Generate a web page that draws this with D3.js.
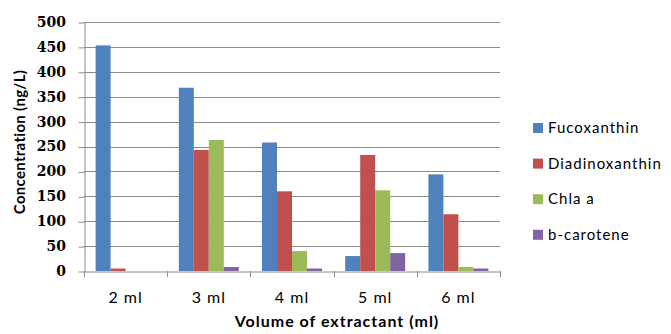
<!DOCTYPE html>
<html>
<head>
<meta charset="utf-8">
<script src="https://cdn.jsdelivr.net/npm/d3@7"></script>
<style>
  body { margin: 0; background: #fff; }
  svg { display: block; }
  text { font-family: Lato, "Open Sans", sans-serif; fill: #000; }
</style>
</head>
<body>
<div id="chart"></div>
<script>
// Pigment concentrations by volume of extractant
const categories = ["2 ml", "3 ml", "4 ml", "5 ml", "6 ml"];
const seriesNames = ["Fucoxanthin", "Diadinoxanthin", "Chla a", "b-carotene"];
const fucoxanthin = [453, 368, 258, 30, 194];
const diadinoxanthin = [5, 243, 160, 233, 114];
const chlaA = [0, 263, 40, 162, 8];
const bCarotene = [0, 8, 5, 36, 5];
const yTicks = [0, 50, 100, 150, 200, 250, 300, 350, 400, 450, 500];
const colors = ["#4F81BD", "#C0504D", "#9BBB59", "#8064A2"];

const seriesValues = [fucoxanthin, diadinoxanthin, chlaA, bCarotene];

const W = 671, H = 334;
const plot = { left: 84, right: 500, top: 22, bottom: 271 };

const svg = d3.select("#chart").append("svg").attr("width", W).attr("height", H);

const x = d3.scaleBand().domain(categories).range([plot.left, plot.right]).paddingInner(0).paddingOuter(0);
const inner = d3.scaleBand().domain(seriesNames).range([0, x.bandwidth()]).paddingOuter(0.775).paddingInner(0);
const y = d3.scaleLinear().domain([0, 500]).range([plot.bottom, plot.top]);

// gridlines
svg.append("g").selectAll("line").data(yTicks.filter(d => d > 0)).join("line")
  .attr("x1", plot.left).attr("x2", plot.right)
  .attr("y1", d => Math.round(y(d)) + 0.5).attr("y2", d => Math.round(y(d)) + 0.5)
  .attr("stroke", "#8c8c8c").attr("stroke-width", 1);

// y axis
const yAxis = svg.append("g").attr("transform", `translate(${plot.left + 0.5},0)`)
  .call(d3.axisLeft(y).tickValues(yTicks).tickSize(6).tickSizeOuter(0));
yAxis.select(".domain").attr("stroke", "#8c8c8c");
yAxis.selectAll(".tick line").attr("stroke", "#8c8c8c").attr("transform", "translate(0,0.5)");
yAxis.selectAll(".tick text")
  .attr("x", -18.5)
  .style("font-family", "'DejaVu Serif', 'Liberation Serif', serif")
  .style("font-weight", "bold")
  .style("font-size", "14px");

// bars
const groups = svg.append("g").selectAll("g").data(seriesNames).join("g")
  .attr("fill", (d, i) => colors[i]);
groups.selectAll("rect").data((s, i) => categories.map((c, j) => ({ s, c, v: seriesValues[i][j] })))
  .join("rect")
  .attr("x", d => x(d.c) + inner(d.s))
  .attr("width", inner.bandwidth())
  .attr("y", d => y(d.v))
  .attr("height", d => y(0) - y(d.v));

// x axis
const xAxis = svg.append("g").attr("transform", `translate(0,${plot.bottom + 0.5})`)
  .call(d3.axisBottom(x).tickSize(0).tickSizeOuter(0));
xAxis.select(".domain").attr("stroke", "#8c8c8c");
xAxis.selectAll(".tick text").attr("dy", 0).attr("y", 31)
  .style("font-size", "16px").style("letter-spacing", "1px");
const boundaries = categories.map(c => x(c)).concat([plot.right]);
svg.append("g").selectAll("line").data(boundaries).join("line")
  .attr("x1", d => Math.round(d) + 0.5).attr("x2", d => Math.round(d) + 0.5)
  .attr("y1", plot.bottom).attr("y2", plot.bottom + 6)
  .attr("stroke", "#8c8c8c");

// axis titles
svg.append("text")
  .attr("transform", `translate(25,142) rotate(-90)`)
  .attr("text-anchor", "middle")
  .style("font-weight", "bold").style("font-size", "15px").style("letter-spacing", "0.3px")
  .text("Concentration (ng/L)");
svg.append("text")
  .attr("x", 337).attr("y", 327)
  .attr("text-anchor", "middle")
  .style("font-weight", "bold").style("font-size", "16px").style("letter-spacing", "1px")
  .text("Volume of extractant (ml)");

// legend
const legend = svg.append("g").selectAll("g").data(seriesNames).join("g")
  .attr("transform", (d, i) => `translate(533,${128 + i * 35.6})`);
legend.append("rect").attr("x", 0).attr("y", -5).attr("width", 10).attr("height", 10)
  .attr("fill", (d, i) => colors[i]);
legend.append("text").attr("x", 15).attr("y", 0).attr("dy", "0.35em")
  .style("font-size", "15px").style("letter-spacing", "1px").text(d => d);
</script>
</body>
</html>
